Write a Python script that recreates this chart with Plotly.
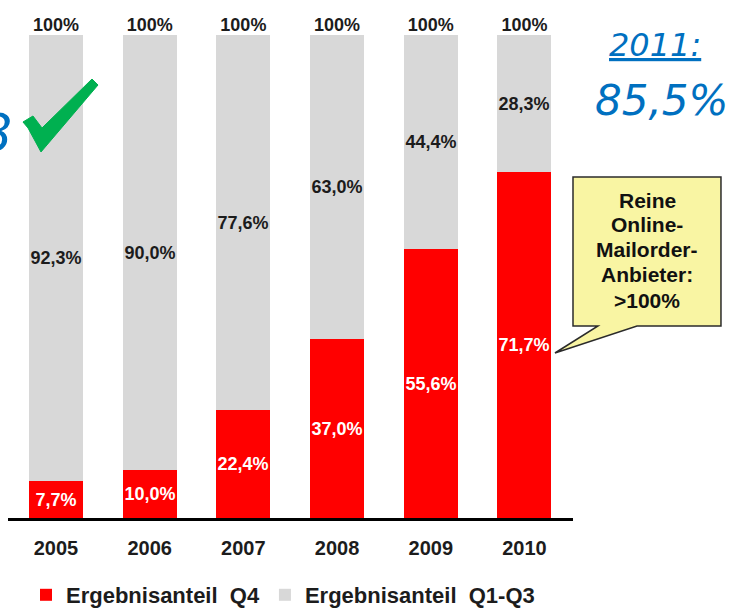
import plotly.graph_objects as go

years = ["2005", "2006", "2007", "2008", "2009", "2010"]
q4 = [7.7, 10.0, 22.4, 37.0, 55.6, 71.7]
q1_q3 = [92.3, 90.0, 77.6, 63.0, 44.4, 28.3]
series_names = ["Ergebnisanteil\u00a0\u00a0Q4", "Ergebnisanteil\u00a0\u00a0Q1-Q3"]
callout_lines = ["Reine", "Online-", "Mailorder-", "Anbieter:", "&gt;100%"]
note_year = "2011:"
note_value = "85,5%"

W, H = 734, 610
ML, MR, MT, MB = 8, 161, 35, 92
PW, PH = W - ML - MR, H - MT - MB


def px(x, y):
    return (x - ML) / PW, (H - MB - y) / PH


def fmt(v):
    return f"{v:.1f}".replace(".", ",") + "%"


totals = [a + b for a, b in zip(q4, q1_q3)]
FONT = "Liberation Sans"

fig = go.Figure()
fig.add_trace(go.Bar(
    x=years, y=q4, name=series_names[0], marker_color="#FF0000",
    width=0.576, text=[fmt(v) for v in q4], textposition="inside",
    insidetextanchor="middle", textangle=0, constraintext="none",
    textfont=dict(family=FONT, size=18, color="white", weight="bold"),
    marker_line_width=0,
))
fig.add_trace(go.Bar(
    x=years, y=q1_q3, name=series_names[1], marker_color="#D8D8D8",
    width=0.576, text=[fmt(v) for v in q1_q3], textposition="inside",
    insidetextanchor="middle", textangle=0, constraintext="none",
    textfont=dict(family=FONT, size=18, color="#1c1c1c", weight="bold"),
    marker_line_width=0,
))
fig.add_trace(go.Scatter(
    x=years, y=totals, mode="text", text=[f"{t:.0f}%" for t in totals],
    textposition="top center", showlegend=False, cliponaxis=False,
    textfont=dict(family=FONT, size=18, color="#1c1c1c", weight="bold"),
))

shapes = []
# callout box
pts = [(573, 177), (721, 177), (721, 326), (637, 326), (555, 353), (598, 326), (573, 326)]
path = "M " + " L ".join(f"{px(x, y)[0]:.4f},{px(x, y)[1]:.4f}" for x, y in pts) + " Z"
shapes.append(dict(type="path", xref="paper", yref="paper", path=path,
                   fillcolor="#F9F5A3", line=dict(color="#2b2b2b", width=1.5)))
# green check mark
cpts = [(23, 122), (33, 116), (42, 128), (92, 79), (98, 85), (41, 152), (28, 128)]
cpath = "M " + " L ".join(f"{px(x, y)[0]:.4f},{px(x, y)[1]:.4f}" for x, y in cpts) + " Z"
shapes.append(dict(type="path", xref="paper", yref="paper", path=cpath,
                   fillcolor="#00B050", line=dict(color="#00B050", width=1)))

annotations = []
line_y = [200, 224.5, 249, 274.5, 300]
for txt, yy in zip(callout_lines, line_y):
    cx, cy = px(647, yy)
    annotations.append(dict(xref="paper", yref="paper", x=cx, y=cy, xanchor="center", yanchor="middle",
                            showarrow=False, text=txt,
                            font=dict(family=FONT, size=21, color="#111111", weight="bold")))
bx, by = px(655, 45)
annotations.append(dict(xref="paper", yref="paper", x=bx, y=by, xanchor="center", yanchor="middle",
                        showarrow=False, text=f"<u>{note_year}</u>",
                        font=dict(family="DejaVu Sans", size=32, color="#0070C0", style="italic")))
vx, vy = px(661, 100)
annotations.append(dict(xref="paper", yref="paper", x=vx, y=vy, xanchor="center", yanchor="middle",
                        showarrow=False, text=note_value,
                        font=dict(family="DejaVu Sans", size=42, color="#0070C0", style="italic")))
ex, ey = px(14, 133)
annotations.append(dict(xref="paper", yref="paper", x=ex, y=ey, xanchor="right", yanchor="middle",
                        showarrow=False, text="8",
                        font=dict(family="DejaVu Sans", size=52, color="#0070C0", style="italic")))

lx, ly = px(26, 595)
fig.update_layout(
    width=W, height=H, barmode="stack", bargap=0,
    margin=dict(l=ML, r=MR, t=MT, b=MB, pad=0, autoexpand=False),
    plot_bgcolor="white", paper_bgcolor="white",
    xaxis=dict(type="category", range=[-0.512, 5.518], showline=True, linecolor="black",
               linewidth=3, ticks="", showgrid=False, ticklabelstandoff=10,
               tickfont=dict(family=FONT, size=20, color="#1c1c1c", weight="bold")),
    yaxis=dict(range=[0, 100], visible=False, showgrid=False),
    showlegend=True,
    legend=dict(orientation="h", x=lx, y=ly, xanchor="left", yanchor="middle",
                traceorder="normal",
                font=dict(family=FONT, size=22, color="#1c1c1c", weight="bold")),
    shapes=shapes, annotations=annotations,
)

fig.write_html("out.html", config={"displayModeBar": False},
               post_script="document.body.style.margin='0';document.body.style.overflow='hidden';")
